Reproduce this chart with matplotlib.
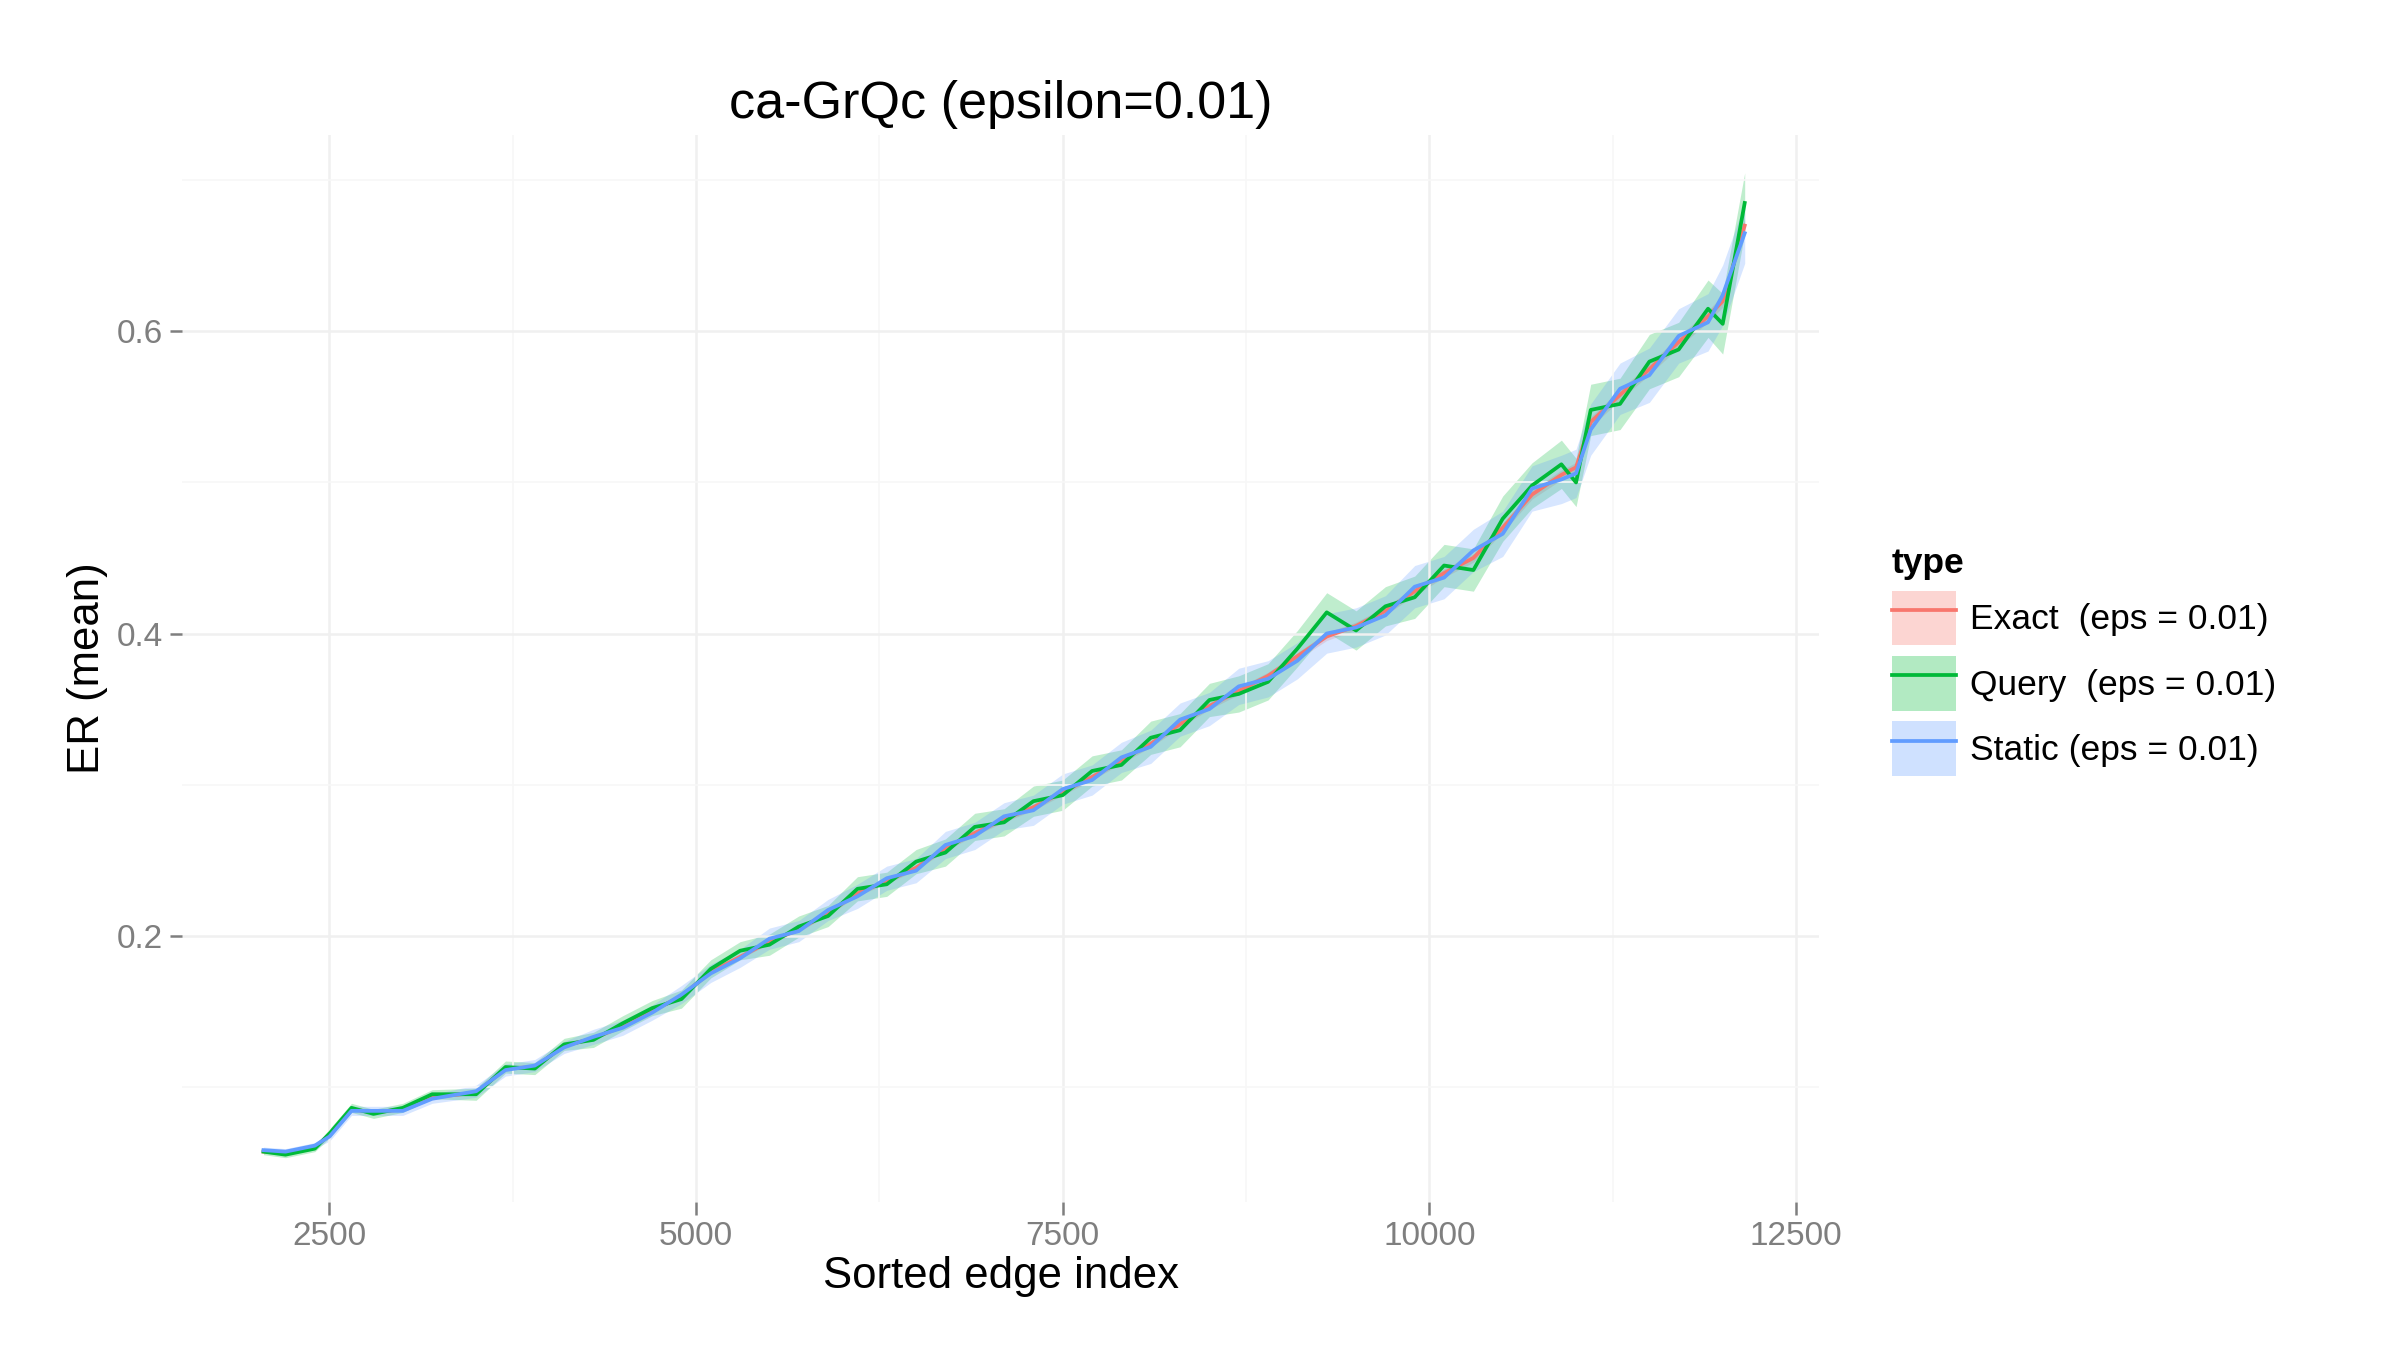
import numpy as np
import matplotlib.pyplot as plt
from matplotlib.patches import Patch
from matplotlib.lines import Line2D

# data
x = [2050, 2200, 2400, 2500, 2650, 2800, 3000, 3200, 3500, 3700, 3900, 4100, 4300, 4500,
     4700, 4900, 5100, 5300, 5500, 5700, 5900, 6100, 6300, 6500, 6700, 6900, 7100, 7300,
     7500, 7700, 7900, 8100, 8300, 8500, 8700, 8900, 9100, 9300, 9500, 9700, 9900, 10100,
     10300, 10500, 10700, 10900, 11000, 11100, 11300, 11500, 11700, 11900, 12000, 12150]
exact = [0.057, 0.056, 0.060, 0.068, 0.085, 0.083, 0.085, 0.093, 0.096, 0.112, 0.113, 0.127,
         0.132, 0.140, 0.150, 0.160, 0.176, 0.186, 0.196, 0.204, 0.215, 0.228, 0.236, 0.245,
         0.258, 0.268, 0.277, 0.285, 0.295, 0.305, 0.316, 0.327, 0.340, 0.352, 0.362, 0.372,
         0.385, 0.398, 0.405, 0.415, 0.428, 0.440, 0.450, 0.470, 0.492, 0.505, 0.510, 0.540,
         0.558, 0.575, 0.593, 0.610, 0.620, 0.670]
query = [0.057, 0.055, 0.059, 0.069, 0.086, 0.082, 0.086, 0.095, 0.095, 0.113, 0.112, 0.128,
         0.131, 0.142, 0.152, 0.158, 0.178, 0.190, 0.194, 0.206, 0.213, 0.231, 0.234, 0.249,
         0.255, 0.272, 0.275, 0.289, 0.293, 0.309, 0.313, 0.331, 0.336, 0.356, 0.360, 0.368,
         0.390, 0.414, 0.402, 0.418, 0.424, 0.445, 0.442, 0.476, 0.498, 0.512, 0.500, 0.548,
         0.552, 0.580, 0.588, 0.615, 0.605, 0.685]
static = [0.058, 0.057, 0.061, 0.067, 0.084, 0.084, 0.084, 0.092, 0.097, 0.111, 0.114, 0.126,
          0.133, 0.139, 0.149, 0.161, 0.175, 0.185, 0.198, 0.203, 0.217, 0.226, 0.238, 0.243,
          0.260, 0.266, 0.279, 0.283, 0.297, 0.303, 0.318, 0.325, 0.343, 0.350, 0.365, 0.370,
          0.382, 0.400, 0.404, 0.412, 0.431, 0.437, 0.455, 0.466, 0.496, 0.502, 0.506, 0.535,
          0.562, 0.571, 0.597, 0.606, 0.624, 0.665]
band = [0.002, 0.002, 0.002, 0.003, 0.003, 0.003, 0.003, 0.003, 0.004, 0.004, 0.004, 0.004,
        0.005, 0.005, 0.005, 0.006, 0.006, 0.006, 0.007, 0.007, 0.007, 0.008, 0.008, 0.008,
        0.009, 0.009, 0.009, 0.010, 0.010, 0.010, 0.010, 0.011, 0.011, 0.011, 0.012, 0.012,
        0.012, 0.013, 0.013, 0.013, 0.014, 0.014, 0.014, 0.015, 0.015, 0.016, 0.016, 0.017,
        0.017, 0.018, 0.018, 0.019, 0.020, 0.020]
labels = ['Exact  (eps = 0.01)', 'Query  (eps = 0.01)', 'Static (eps = 0.01)']
colors = ['#F8766D', '#00BA38', '#619CFF']

plt.rcParams['font.family'] = ['Arial', 'Liberation Sans', 'DejaVu Sans']
fig = plt.figure(figsize=(16, 9), dpi=150)
ax = fig.add_axes([0.076, 0.11, 0.682, 0.79])

b = np.array(band)
for y, c, k in zip([exact, query, static], colors, [0.2, 1.0, 1.0]):
    y = np.array(y)
    ax.fill_between(x, y - b * k, y + b * k, color=c, alpha=0.25, lw=0)
for y, c in zip([exact, query, static], colors):
    ax.plot(x, y, color=c, lw=1.8)

ax.set_xlim(1497, 12658)
ax.set_ylim(0.024, 0.73)
ax.set_xticks([2500, 5000, 7500, 10000, 12500])
ax.set_xticks([3750, 6250, 8750, 11250], minor=True)
ax.set_yticks([0.2, 0.4, 0.6])
ax.set_yticks([0.1, 0.3, 0.5, 0.7], minor=True)
ax.grid(which='major', color='#F0F0F0', lw=1.2)
ax.grid(which='minor', color='#F7F7F7', lw=0.8)
for s in ax.spines.values():
    s.set_visible(False)
ax.tick_params(which='major', colors='#7F7F7F', labelsize=16, length=6, width=1.2)
ax.tick_params(which='minor', length=0)
ax.set_xlabel('Sorted edge index', fontsize=21, labelpad=2)
ax.set_ylabel('ER (mean)', fontsize=21)
ax.set_title('ca-GrQc (epsilon=0.01)', fontsize=25, pad=8)

handles = [(Patch(facecolor=c, alpha=0.3, lw=0), Line2D([], [], color=c, lw=1.8)) for c in colors]
leg = fig.legend(handles, labels, loc='center left', bbox_to_anchor=(0.775, 0.51),
                 title='type', fontsize=17, title_fontsize=17, frameon=False,
                 handlelength=1.8, handleheight=2.0, labelspacing=0.3, handletextpad=0.4)
leg.get_title().set_fontweight('bold')
leg._legend_box.align = 'left'

plt.savefig('out.png')
